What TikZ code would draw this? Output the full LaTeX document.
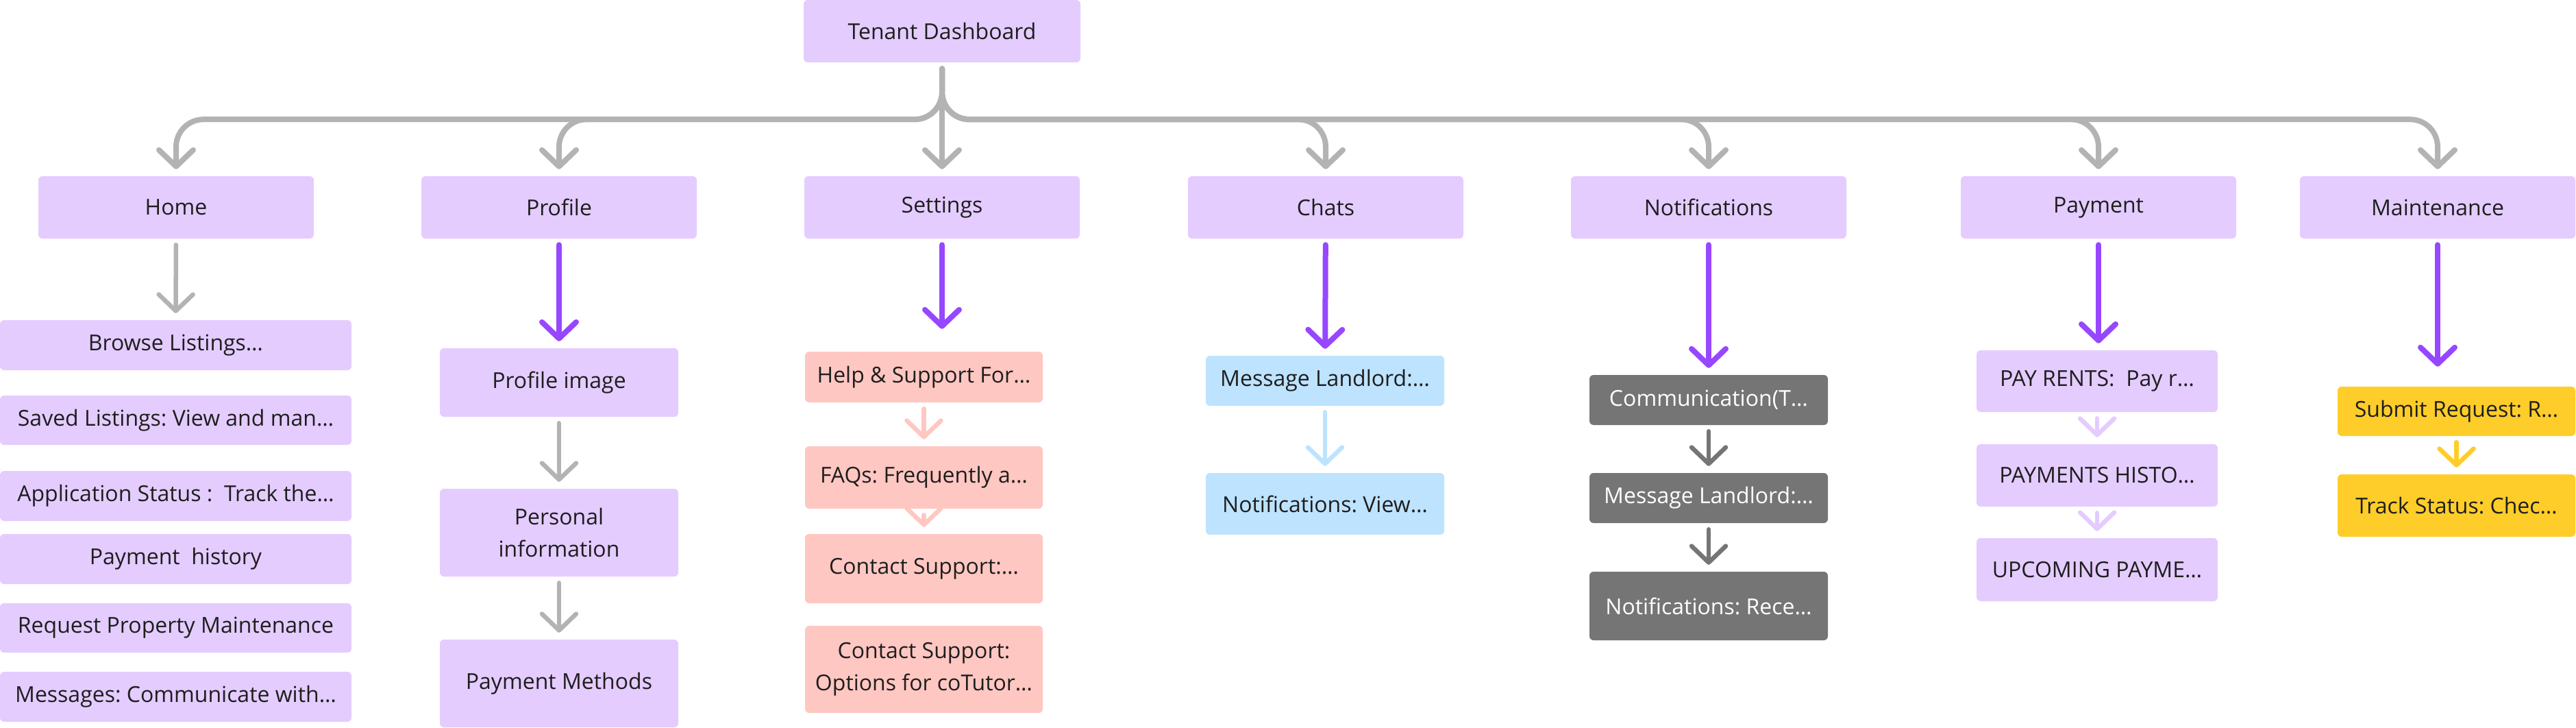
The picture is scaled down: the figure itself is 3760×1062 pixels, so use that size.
\documentclass[tikz,border=0pt]{standalone}
\usepackage{fontspec}
\setmainfont{Open Sans}
\usetikzlibrary{arrows.meta,backgrounds}
\frenchspacing
\definecolor{lilac}{HTML}{E4CCFF}
\definecolor{blush}{HTML}{FFC7C2}
\definecolor{sky}{HTML}{BDE3FF}
\definecolor{slate}{HTML}{757575}
\definecolor{sun}{HTML}{FFCD29}
\definecolor{violet}{HTML}{9747FF}
\definecolor{ash}{HTML}{B3B3B3}
\definecolor{ink}{HTML}{1E1E1E}
\tikzset{
    card/.style = {
        rectangle,
        rounded corners = 6pt,
        inner sep = 0pt,
        align = center,
        text = ink,
        font = \fontsize{32}{47}\selectfont,
    },
    menu/.style = {card, fill=lilac, minimum width=402pt, minimum height=91pt},
    link/.style = {
        line width = 6.5pt,
        line cap = round,
        shorten <= 9pt,
        shorten >= 10pt,
        -{Straight Barb[length=24pt,width=50pt,round]},
    },
    trunk/.style = {link, line width=8pt, draw=ash, rounded corners=40pt},
}

\begin{document}
\begin{tikzpicture}[x=1pt,y=-1pt]
    \useasboundingbox (0,0) rectangle (3760,1062);

    \node[card, fill=lilac, minimum width=404pt, minimum height=91pt] (TD) at (1375,45.5) {Tenant Dashboard};

    \node[menu] (Home) at (257,302.5) {Home};
    \node[menu] (Profile) at (816,302.5) {Profile};
    \node[menu] (Settings) at (1375,302.5) {Settings};
    \node[menu] (Chats) at (1935,302.5) {Chats};
    \node[menu] (Notif) at (2494,302.5) {Notifications};
    \node[menu] (Payment) at (3063,302.5) {Payment};
    \node[menu] (Maint) at (3558,302.5) {Maintenance};

    % home
    \node[card, fill=lilac, minimum width=513pt, minimum height=73pt] (Browse) at (256.5,503.5) {Browse Listings…};
    \node[card, fill=lilac, minimum width=513pt, minimum height=72pt] (Saved) at (256.5,613) {Saved Listings: View and man…};
    \node[card, fill=lilac, minimum width=513pt, minimum height=73pt] (AppStatus) at (256.5,723.5) {Application Status :\ \ Track the…};
    \node[card, fill=lilac, minimum width=513pt, minimum height=73pt] (PayHist) at (256.5,815.5) {Payment\ \ history};
    \node[card, fill=lilac, minimum width=513pt, minimum height=72pt] (ReqMaint) at (256.5,916) {Request Property Maintenance};
    \node[card, fill=lilac, minimum width=513pt, minimum height=73pt] (Messages) at (256.5,1016.5) {Messages: Communicate with…};

    % profile
    \node[card, fill=lilac, minimum width=348pt, minimum height=100pt] (ProfImg) at (816,558) {Profile image};
    \node[card, fill=lilac, minimum width=348pt, minimum height=128pt] (PersInfo) at (816,777) {Personal\\information};
    \node[card, fill=lilac, minimum width=348pt, minimum height=128pt] (PayMeth) at (816,997) {Payment Methods};

    % settings
    \node[card, fill=blush, minimum width=347pt, minimum height=74pt] (Help) at (1348.5,550) {Help \& Support For…};
    \node[card, fill=blush, minimum width=347pt, minimum height=91pt] (FAQs) at (1348.5,696.5) {FAQs: Frequently a…};
    \node[card, fill=blush, minimum width=347pt, minimum height=101pt] (Contact) at (1348.5,829.5) {Contact Support:…};
    \node[card, fill=blush, minimum width=347pt, minimum height=127pt] (Options) at (1348.5,976.5) {Contact Support:\\Options for coTutor…};

    % chats
    \node[card, fill=sky, minimum width=348pt, minimum height=73pt] (MsgLL) at (1934,555.5) {Message Landlord:…};
    \node[card, fill=sky, minimum width=348pt, minimum height=90pt] (NotifView) at (1934,735) {Notifications: View…};

    % notifications
    \node[card, fill=slate, text=white, minimum width=348pt, minimum height=73pt] (Comm) at (2494,583.5) {Communication(T…};
    \node[card, fill=slate, text=white, minimum width=348pt, minimum height=73pt] (MsgLLB) at (2494,726.5) {Message Landlord:…};
    \node[card, fill=slate, text=white, minimum width=348pt, minimum height=100pt] (NotifRece) at (2494,884) {Notifications: Rece…};

    % payment
    \node[card, fill=lilac, minimum width=352pt, minimum height=90pt] (PayRents) at (3061,556) {PAY RENTS:\ \ Pay r…};
    \node[card, fill=lilac, minimum width=352pt, minimum height=91pt] (PayHisto) at (3061,693.5) {PAYMENTS HISTO…};
    \node[card, fill=lilac, minimum width=352pt, minimum height=92pt] (Upcoming) at (3061,831) {UPCOMING PAYME…};

    % maintenance
    \node[card, fill=sun, minimum width=347pt, minimum height=72pt] (Submit) at (3585.5,600) {Submit Request: R…};
    \node[card, fill=sun, minimum width=347pt, minimum height=91pt] (Track) at (3585.5,737.5) {Track Status: Chec…};

    \begin{scope}[on background layer]
        \draw[trunk] (TD.south) -- ++(0,83) -| (Home.north);
        \draw[trunk] (TD.south) -- ++(0,83) -| (Profile.north);
        \draw[trunk] (TD.south) -- (Settings.north);
        \draw[trunk] (TD.south) -- ++(0,83) -| (Chats.north);
        \draw[trunk] (TD.south) -- ++(0,83) -| (Notif.north);
        \draw[trunk] (TD.south) -- ++(0,83) -| (Payment.north);
        \draw[trunk] (TD.south) -- ++(0,83) -| (Maint.north);

        \draw[link, draw=ash] (Home) -- (Browse);
        \draw[link, draw=violet, line width=8pt] (Profile) -- (ProfImg);
        \draw[link, draw=violet, line width=8pt, shorten >=33pt] (Settings.south) -- (Settings.south |- Help.north);
        \draw[link, draw=violet, line width=8pt] (Chats) -- (MsgLL);
        \draw[link, draw=violet, line width=8pt] (Notif) -- (Comm);
        \draw[link, draw=violet, line width=8pt] (Payment.south) -- (Payment.south |- PayRents.north);
        \draw[link, draw=violet, line width=8pt, shorten >=29pt] (Maint.south) -- (Maint.south |- Submit.north);

        \draw[link, draw=ash] (ProfImg) -- (PersInfo);
        \draw[link, draw=ash] (PersInfo) -- (PayMeth);
        \draw[link, draw=blush] (Help) -- (FAQs);
        \draw[link, draw=blush] (FAQs) -- (Contact);
        \draw[link, draw=sky] (MsgLL) -- (NotifView);
        \draw[link, draw=slate] (Comm) -- (MsgLLB);
        \draw[link, draw=slate] (MsgLLB) -- (NotifRece);
        \draw[link, draw=lilac] (PayRents) -- (PayHisto);
        \draw[link, draw=lilac] (PayHisto) -- (Upcoming);
        \draw[link, draw=sun] (Submit) -- (Track);
    \end{scope}
\end{tikzpicture}
\end{document}
